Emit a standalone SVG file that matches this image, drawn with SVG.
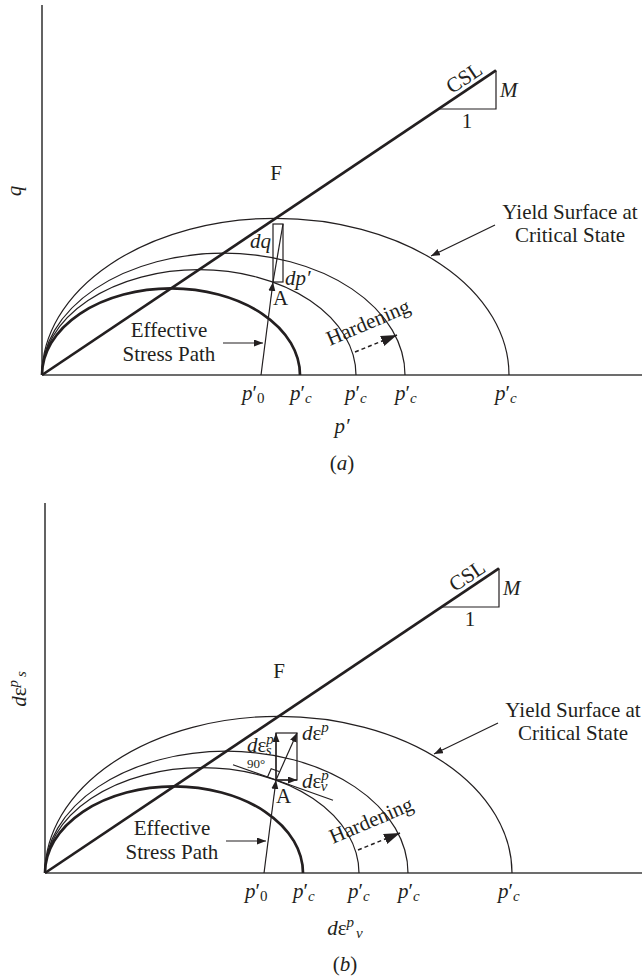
<svg xmlns="http://www.w3.org/2000/svg" width="642" height="978" viewBox="0 0 642 978">
<defs>
<style>
.t{font-family:"Liberation Serif","Times New Roman",serif;font-size:21px;fill:#231f20}
.i{font-style:italic}
.sm{font-size:15px}
.ax{stroke:#3c3c3c;stroke-width:1.6;fill:none}
.th{stroke:#231f20;stroke-width:1.2;fill:none}
.tk{stroke:#231f20;stroke-width:2.7;fill:none}
.ar{stroke:#231f20;stroke-width:1.2;fill:none;marker-end:url(#ah)}
.da{stroke:#231f20;stroke-width:1.6;fill:none;stroke-dasharray:4 3;marker-end:url(#bh)}
</style>
<marker id="ah" markerUnits="userSpaceOnUse" markerWidth="10" markerHeight="8" refX="9" refY="3.5" orient="auto"><path d="M0,0 L9,3.5 L0,7 z" fill="#231f20"/></marker>
<marker id="bh" markerUnits="userSpaceOnUse" markerWidth="17" markerHeight="12" refX="16" refY="5.5" orient="auto"><path d="M0,0 L16,5.5 L0,11 z" fill="#231f20"/></marker>
</defs>

<g id="panel-a">
  <g id="a-axes">
    <line class="ax" x1="42" y1="5" x2="42" y2="375"/>
    <line class="ax" x1="42" y1="375" x2="642" y2="375"/>
  </g>
  <g id="a-yield-surfaces">
    <path class="tk" d="M42,375 A129,86.6 0 0 1 300,375"/>
    <path class="th" d="M42,375 A157,105.3 0 0 1 356,375"/>
    <path class="th" d="M42,375 A181.5,121.8 0 0 1 405,375"/>
    <path class="th" d="M42,375 A233.5,156.7 0 0 1 509,375"/>
  </g>
  <g id="a-csl">
    <line class="tk" x1="42" y1="375" x2="496" y2="70.4"/>
    <polyline class="th" points="438.5,109 496,109 496,70.4"/>
  </g>
  <g id="a-increment">
    <rect class="th" x="273" y="224" width="10" height="58"/>
    <line class="th" x1="273" y1="282" x2="283" y2="224"/>
  </g>
  <g id="a-connectors">
    <line class="ar" x1="261" y1="375" x2="273" y2="282"/>
    <line class="ar" x1="223" y1="343" x2="263" y2="343"/>
    <line class="ar" x1="495" y1="225" x2="431" y2="256"/>
    <line class="da" x1="355" y1="352" x2="397" y2="335"/>
  </g>
  <g id="a-labels" class="t">
    <text class="i" transform="translate(21,191) rotate(-90)" text-anchor="middle">q</text>
    <text x="468" y="83.5" transform="rotate(-33.86 468 83.5)" text-anchor="middle">CSL</text>
    <text class="i" x="500" y="97">M</text>
    <text x="467" y="128" text-anchor="middle">1</text>
    <text x="276" y="180" text-anchor="middle">F</text>
    <text class="i" x="250" y="248">dq</text>
    <text class="i" x="285" y="285">dp′</text>
    <text x="273" y="305">A</text>
    <text x="169" y="337" text-anchor="middle">Effective</text>
    <text x="169" y="361" text-anchor="middle">Stress Path</text>
    <text x="570" y="219" text-anchor="middle">Yield Surface at</text>
    <text x="570" y="242" text-anchor="middle">Critical State</text>
    <text x="330" y="346" transform="rotate(-23 330 346)">Hardening</text>
    <text x="242" y="400"><tspan class="i">p</tspan>′<tspan class="sm" dy="3">0</tspan></text>
    <text x="290" y="400"><tspan class="i">p</tspan>′<tspan class="i sm" dy="3">c</tspan></text>
    <text x="345" y="400"><tspan class="i">p</tspan>′<tspan class="i sm" dy="3">c</tspan></text>
    <text x="395" y="400"><tspan class="i">p</tspan>′<tspan class="i sm" dy="3">c</tspan></text>
    <text x="495" y="400"><tspan class="i">p</tspan>′<tspan class="i sm" dy="3">c</tspan></text>
    <text class="i" x="342" y="433" text-anchor="middle">p′</text>
    <text x="342" y="470" text-anchor="middle">(<tspan class="i">a</tspan>)</text>
  </g>
</g>

<g id="panel-b" transform="translate(3,498)">
  <g id="b-axes">
    <line class="ax" x1="42" y1="5" x2="42" y2="375"/>
    <line class="ax" x1="42" y1="375" x2="639" y2="375"/>
  </g>
  <g id="b-yield-surfaces">
    <path class="tk" d="M42,375 A129,86.6 0 0 1 300,375"/>
    <path class="th" d="M42,375 A157,105.3 0 0 1 356,375"/>
    <path class="th" d="M42,375 A181.5,121.8 0 0 1 405,375"/>
    <path class="th" d="M42,375 A233.5,156.7 0 0 1 509,375"/>
  </g>
  <g id="b-csl">
    <line class="tk" x1="42" y1="375" x2="496" y2="70.4"/>
    <polyline class="th" points="438.5,109 496,109 496,70.4"/>
  </g>
  <g id="b-increment">
    <rect class="th" x="273" y="235" width="21" height="47"/>
    <line class="th" x1="230" y1="266.7" x2="330" y2="302.3"/>
    <polyline class="th" points="264.5,279 268.2,270.8 276.7,273.8"/>
  </g>
  <g id="b-connectors">
    <line class="ar" x1="261" y1="375" x2="273" y2="282"/>
    <line class="ar" x1="273" y1="282" x2="273" y2="235"/>
    <line class="ar" x1="273" y1="282" x2="294" y2="235"/>
    <line class="ar" x1="273" y1="282" x2="294" y2="282"/>
    <line class="ar" x1="223" y1="343" x2="263" y2="343"/>
    <line class="ar" x1="495" y1="225" x2="431" y2="256"/>
    <line class="da" x1="355" y1="352" x2="397" y2="335"/>
  </g>
  <g id="b-labels" class="t">
    <text transform="translate(23,191) rotate(-90)" text-anchor="middle"><tspan class="i">d</tspan>ε<tspan class="i sm" dy="-8">p</tspan><tspan class="i sm" dx="3" dy="8">s</tspan></text>
    <text x="468" y="83.5" transform="rotate(-33.86 468 83.5)" text-anchor="middle">CSL</text>
    <text class="i" x="500" y="97">M</text>
    <text x="467" y="128" text-anchor="middle">1</text>
    <text x="276" y="180" text-anchor="middle">F</text>
    <text x="299" y="242"><tspan class="i">d</tspan>ε<tspan class="i sm" dy="-8">p</tspan></text>
    <text x="244" y="254"><tspan class="i">d</tspan>ε<tspan class="i sm" dy="-8">p</tspan><tspan class="i sm" dx="-8" dy="11">s</tspan></text>
    <text x="244" y="270" font-size="13">90°</text>
    <text x="299" y="290"><tspan class="i">d</tspan>ε<tspan class="i sm" dy="-8">p</tspan><tspan class="i sm" dx="-8" dy="11">v</tspan></text>
    <text x="273" y="305">A</text>
    <text x="169" y="337" text-anchor="middle">Effective</text>
    <text x="169" y="361" text-anchor="middle">Stress Path</text>
    <text x="570" y="219" text-anchor="middle">Yield Surface at</text>
    <text x="570" y="242" text-anchor="middle">Critical State</text>
    <text x="330" y="346" transform="rotate(-23 330 346)">Hardening</text>
    <text x="242" y="400"><tspan class="i">p</tspan>′<tspan class="sm" dy="3">0</tspan></text>
    <text x="290" y="400"><tspan class="i">p</tspan>′<tspan class="i sm" dy="3">c</tspan></text>
    <text x="345" y="400"><tspan class="i">p</tspan>′<tspan class="i sm" dy="3">c</tspan></text>
    <text x="395" y="400"><tspan class="i">p</tspan>′<tspan class="i sm" dy="3">c</tspan></text>
    <text x="495" y="400"><tspan class="i">p</tspan>′<tspan class="i sm" dy="3">c</tspan></text>
    <text x="342" y="437" text-anchor="middle"><tspan class="i">d</tspan>ε<tspan class="i sm" dy="-8">p</tspan><tspan class="i sm" dx="2" dy="11">v</tspan></text>
    <text x="342" y="473" text-anchor="middle">(<tspan class="i">b</tspan>)</text>
  </g>
</g>
</svg>
